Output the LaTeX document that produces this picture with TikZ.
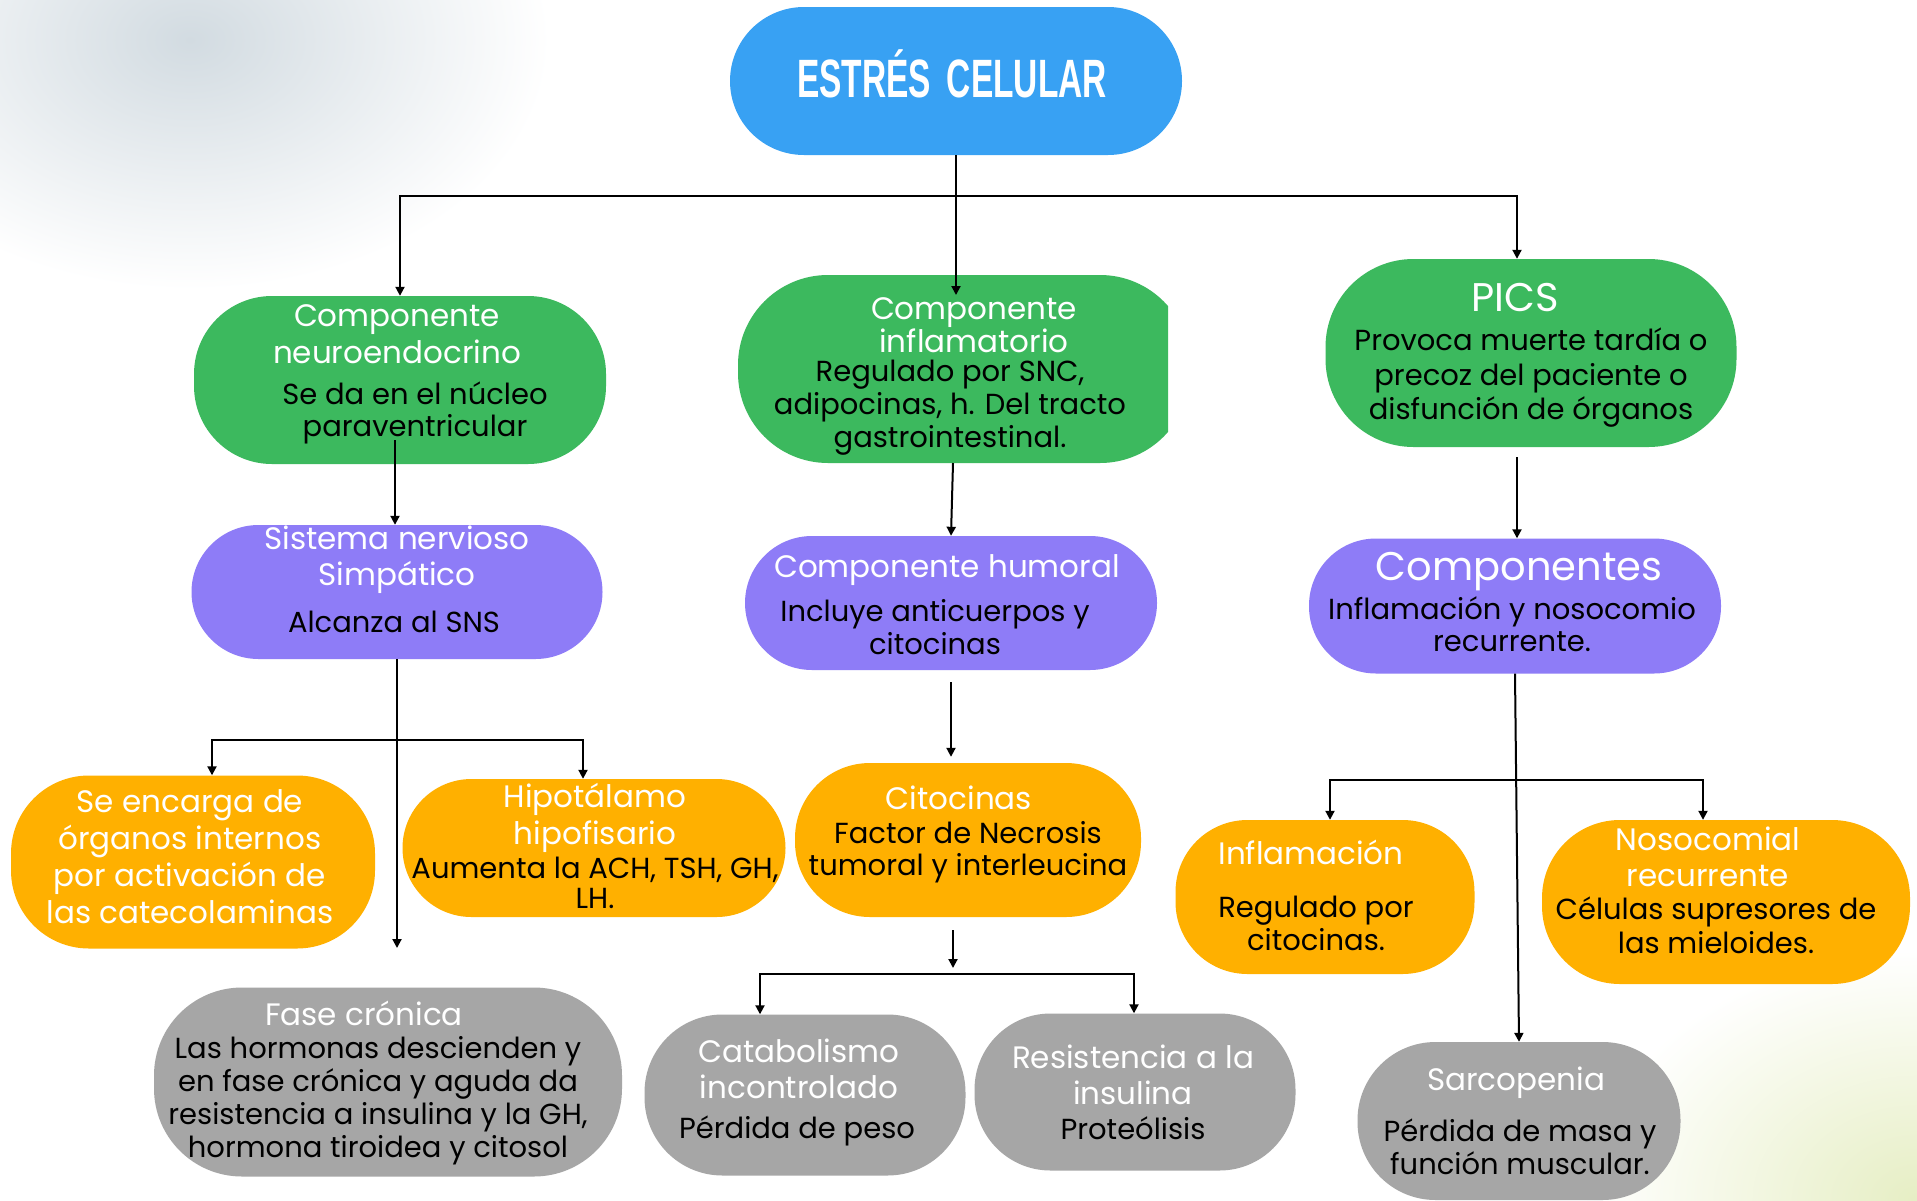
\documentclass[tikz,border=0pt]{standalone}
\usepackage{fontspec}
\setmainfont{Poppins}
\newfontfamily\titlefont{Liberation Sans}[FakeStretch=0.62]
\usetikzlibrary{arrows.meta}
\definecolor{cblue}{HTML}{38A1F3}
\definecolor{cgreen}{HTML}{3CB95E}
\definecolor{cpurple}{HTML}{8E7CF7}
\definecolor{corange}{HTML}{FFB000}
\definecolor{cgrey}{HTML}{A6A6A6}
\definecolor{hazeA}{HTML}{D2DBE1}
\definecolor{hazeB}{HTML}{E6EEC4}
\begin{document}
\begin{tikzpicture}[x=1pt,y=-1pt,
  box/.style={rectangle, rounded corners=#1, inner sep=0pt, draw=none},
  wt/.style={text=white, align=center, inner sep=0pt, font=\fontsize{31}{37}\selectfont},
  bt/.style={text=black, align=center, inner sep=0pt, font=\fontsize{29}{32}\selectfont},
  ln/.style={line width=2pt, line join=miter},
  arr/.style={ln, -{Triangle[length=9pt,width=9pt]}}]
\useasboundingbox (0,0) rectangle (1917,1200);
\fill[white] (0,0) rectangle (1917,1200);
% background haze
\begin{scope}
\clip (0,0) rectangle (1917,1200);
\shade[inner color=hazeA, outer color=white] (190,40) ellipse (360pt and 250pt);
\shade[inner color=hazeB, outer color=white] (1917,1200) ellipse (330pt and 250pt);
\end{scope}

% ---- shapes ----
\node[box=74pt, fill=cblue, minimum width=452pt, minimum height=148pt] (top) at (956,81) {};
\node[box=78pt, fill=cgreen, minimum width=412pt, minimum height=168pt] (neuro) at (400,380) {};
\begin{scope}
\clip (700,250) rectangle (1168,480);
\node[box=90pt, fill=cgreen, minimum width=452pt, minimum height=188pt] (infl) at (964,369) {};
\end{scope}
\node[box=88pt, fill=cgreen, minimum width=411pt, minimum height=188pt] (pics) at (1531,353) {};
\node[box=67pt, fill=cpurple, minimum width=411pt, minimum height=134pt] (sns) at (397,592) {};
\node[box=67pt, fill=cpurple, minimum width=412pt, minimum height=134pt] (hum) at (951,603) {};
\node[box=67pt, fill=cpurple, minimum width=412pt, minimum height=135pt] (comp) at (1515,606) {};
\node[box=78pt, fill=corange, minimum width=364pt, minimum height=173pt] (enc) at (193,862) {};
\node[box=69pt, fill=corange, minimum width=383pt, minimum height=138pt] (hipo) at (594,848) {};
\node[box=75pt, fill=corange, minimum width=346pt, minimum height=154pt] (cito) at (968,840) {};
\node[box=72pt, fill=corange, minimum width=299pt, minimum height=154pt] (inflm) at (1325,897) {};
\node[box=78pt, fill=corange, minimum width=368pt, minimum height=164pt] (noso) at (1726,902) {};
\node[box=88pt, fill=cgrey, minimum width=468pt, minimum height=189pt] (fase) at (388,1082) {};
\node[box=78pt, fill=cgrey, minimum width=321pt, minimum height=161pt] (cat) at (805,1095) {};
\node[box=76pt, fill=cgrey, minimum width=321pt, minimum height=157pt] (res) at (1135,1092) {};
\node[box=78pt, fill=cgrey, minimum width=323pt, minimum height=158pt] (sarc) at (1519,1121) {};

% ---- texts ----
\node[text=white, inner sep=0pt, font=\titlefont\bfseries\fontsize{54}{54}\selectfont] (top-t) at (952,74) {ESTRÉS\hspace{16pt}CELULAR};

\node[wt] (neuro-w) at (397,334) {Componente\\neuroendocrino};
\node[bt] (neuro-b) at (415,413) {Se da en el núcleo\\paraventricular};

\node[wt, font=\fontsize{31}{33}\selectfont] (infl-w) at (974,325) {Componente\\inflamatorio};
\node[bt, font=\fontsize{29}{33}\selectfont] (infl-b) at (950,408) {Regulado por SNC,\\adipocinas, h. Del tracto\\gastrointestinal.};

\node[wt, font=\fontsize{40}{44}\selectfont] (pics-w) at (1515,298) {PICS};
\node[bt, font=\fontsize{29}{34.5}\selectfont] (pics-b) at (1531,378) {Provoca muerte tardía o\\precoz del paciente o\\disfunción de órganos};

\node[wt, font=\fontsize{31}{36}\selectfont] (sns-w) at (397,560) {Sistema nervioso\\Simpático};
\node[bt] (sns-b) at (394,622) {Alcanza al SNS};

\node[wt] (hum-w) at (947,570) {Componente humoral};
\node[bt, font=\fontsize{29}{33}\selectfont] (hum-b) at (935,627) {Incluye anticuerpos y\\citocinas};

\node[wt, font=\fontsize{40}{44}\selectfont] (comp-w) at (1519,572) {Componentes};
\node[bt] (comp-b) at (1512,624) {Inflamación y nosocomio\\recurrente.};

\node[wt, font=\fontsize{31}{37}\selectfont] (enc-w) at (190,857) {Se encarga de\\órganos internos\\por activación de\\las catecolaminas};

\node[wt] (hipo-w) at (595,818) {Hipotálamo\\hipofisario};
\node[bt, font=\fontsize{29}{30}\selectfont] (hipo-b) at (595,883) {Aumenta la ACH, TSH, GH,\\LH.};

\node[wt] (cito-w) at (959,798) {Citocinas};
\node[bt] (cito-b) at (968,852) {Factor de Necrosis\\tumoral y interleucina};

\node[wt] (inflm-w) at (1311,852) {Inflamación};
\node[bt, font=\fontsize{29}{33}\selectfont] (inflm-b) at (1316,923) {Regulado por\\citocinas.};

\node[wt, font=\fontsize{31}{36}\selectfont] (noso-w) at (1708,857) {Nosocomial\\recurrente};
\node[bt, font=\fontsize{29}{34}\selectfont] (noso-b) at (1716,925) {Células supresores de\\las mieloides.};

\node[wt] (fase-w) at (364,1013) {Fase crónica};
\node[bt, font=\fontsize{29}{33}\selectfont] (fase-b) at (378,1101) {Las hormonas descienden y\\en fase crónica y aguda da\\resistencia a insulina y la GH,\\hormona tiroidea y citosol};

\node[wt, font=\fontsize{31}{36}\selectfont] (cat-w) at (799,1069) {Catabolismo\\incontrolado};
\node[bt] (cat-b) at (797,1131) {Pérdida de peso};

\node[wt, font=\fontsize{31}{36}\selectfont] (res-w) at (1133,1075) {Resistencia a la\\insulina};
\node[bt] (res-b) at (1133,1128) {Proteólisis};

\node[wt] (sarc-w) at (1516,1083) {Sarcopenia};
\node[bt, font=\fontsize{29}{33}\selectfont] (sarc-b) at (1520,1147) {Pérdida de masa y\\función muscular.};

% ---- connectors ----
\coordinate (h1L) at (400,196);
\coordinate (h1R) at (1517,196);
\coordinate (infin) at (956,295);
\draw[arr] (h1R) -- (h1L) -- (neuro.north);
\draw[arr] (h1L) -- (h1R) -- (h1R |- pics.north);
\draw[arr] (top.south) -- (infin);

\coordinate (nin) at (395,440);
\draw[arr] (nin) -- (nin |- sns.north);
\coordinate (sEnd) at (397,948);
\draw[arr] (sns.south -| sEnd) -- (sEnd);
\coordinate (b2L) at (212,740);
\coordinate (b2R) at (583,740);
\draw[arr] (b2R) -- (b2L) -- (b2L |- enc.north);
\draw[arr] (b2L) -- (b2R) -- (b2R |- hipo.north);

\coordinate (iout) at (953,463);
\draw[arr] (iout) -- (hum.north);
\draw[arr, shorten <=12pt, shorten >=6pt] (hum.south) -- (hum.south |- cito.north);
\coordinate (cs) at (953,930);
\coordinate (ce) at (953,968);
\draw[arr] (cs) -- (ce);
\coordinate (b3L) at (760,974);
\coordinate (b3R) at (1134,974);
\draw[arr] (b3R) -- (b3L) -- (b3L |- cat.north);
\draw[arr] (b3L) -- (b3R) -- (b3R |- res.north);

\coordinate (pout) at (1517,457);
\draw[arr] (pout) -- (pout |- comp.north);
\draw[arr] (comp.south) -- (sarc.north);
\coordinate (b4L) at (1330,780);
\coordinate (b4R) at (1703,780);
\draw[arr] (b4R) -- (b4L) -- (b4L |- inflm.north);
\draw[arr] (b4L) -- (b4R) -- (b4R |- noso.north);
\end{tikzpicture}
\end{document}
